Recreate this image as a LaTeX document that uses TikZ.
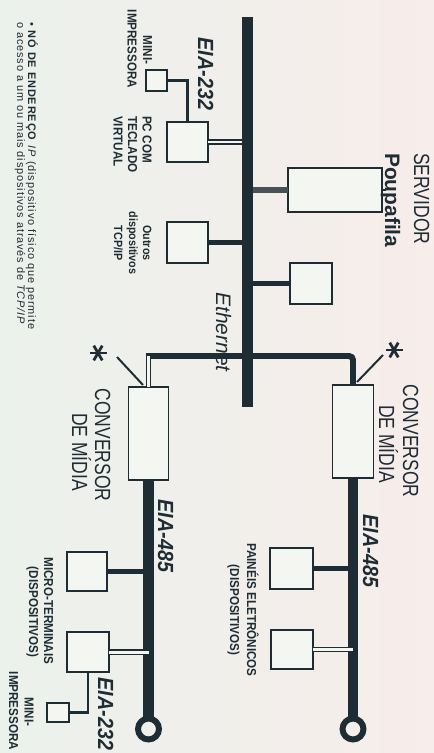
\documentclass[tikz,border=0pt]{standalone}
\usepackage{fontspec}
\setmainfont{Liberation Sans}
\newfontfamily\bigf[FakeStretch=0.8]{Liberation Sans}
\newfontfamily\smf[FakeStretch=0.9]{Liberation Sans}
\newfontfamily\ftf[LetterSpace=8]{Liberation Sans}
\definecolor{ink}{RGB}{30,45,52}
\definecolor{bgL}{RGB}{235,241,235}
\definecolor{bgR}{RGB}{247,237,235}
\definecolor{boxfill}{RGB}{244,246,242}
\definecolor{srvline}{RGB}{70,82,86}
\begin{document}
\begin{tikzpicture}[x=1bp,y=-1bp,
  box/.style={draw=ink, line width=1.4, fill=boxfill, inner sep=0, outer sep=0},
  ring/.style={circle, draw=ink, line width=6, minimum size=21, inner sep=0, outer sep=0},
  bus/.style={draw=ink, line width=10.5},
  thickconn/.style={draw=ink, line width=6},
  dblconn/.style={draw=ink, line width=1.3, double=boxfill, double distance=3},
  thinconn/.style={draw=ink, line width=2.6},
  pointer/.style={draw=ink, line width=2},
  lbl/.style={rotate=-90, inner sep=0, text=ink},
  big/.style={lbl, font=\bigf\fontsize{22}{26}\selectfont},
  eia/.style={lbl, font=\smf\bfseries\itshape\fontsize{22}{26}\selectfont},
  sm/.style={lbl, font=\smf\bfseries\fontsize{13}{15}\selectfont},
  xs/.style={lbl, font=\smf\bfseries\fontsize{12}{14}\selectfont},
  foot/.style={lbl, font=\ftf\fontsize{11}{13}\selectfont}
]
\useasboundingbox (0,0) rectangle (434,753);
\shade[left color=bgL, right color=bgR] (0,0) rectangle (434,753);

% boxes
\node[box, minimum width=94, minimum height=44] (srv) at (335,190) {};
\node[box, minimum width=41, minimum height=40] (pc) at (187.5,142) {};
\node[box, minimum width=21, minimum height=21] (mp1) at (156.5,80.5) {};
\node[box, minimum width=41, minimum height=41] (outros) at (187.5,242.5) {};
\node[box, minimum width=42, minimum height=41] (ipnode) at (311,283.5) {};
\node[box, minimum width=40, minimum height=93] (convL) at (148.5,433.5) {};
\node[box, minimum width=41, minimum height=93] (convR) at (353,431.5) {};
\node[box, minimum width=40, minimum height=39] (mt1) at (87,571.5) {};
\node[box, minimum width=42, minimum height=40] (mt2) at (88,652) {};
\node[box, minimum width=22, minimum height=19] (mp2) at (58,712.5) {};
\node[box, minimum width=43, minimum height=41] (pe1) at (291.5,568.5) {};
\node[box, minimum width=42, minimum height=39] (pe2) at (292,649.5) {};
\node[ring] (endL) at (148.5,729) {};
\node[ring] (endR) at (353,729) {};

\coordinate (ethT) at (247.5,17);
\coordinate (ethB) at (247.5,407);
\coordinate (brL) at (148.5,356);
\coordinate (brR) at (353,356);

% connectors to the Ethernet bus
\draw[srvline, line width=5.5] (srv.west) -- (srv.west -| ethT);
\draw[draw=ink, line width=1.2] (srv.east) -- ++(4,0);
\draw[dblconn] (pc.east) -- (pc.east -| ethT);
\draw[thickconn] (outros.east) -- (outros.east -| ethT);
\draw[thickconn] (ipnode.west) -- (ipnode.west -| ethT);
\draw[thinconn] (mp1.east) -| (pc.north);
\draw[thickconn] ([xshift=-3]brL) -- (brL -| ethT);
\draw[dblconn] (brL) -- (convL.north);
\draw[thickconn, rounded corners=4] (brR -| ethT) -- (brR) -- (convR.north);
\draw[bus] (ethT) -- (ethB);

% EIA-485 lines
\draw[bus] (convL.south) -- (endL.north);
\draw[bus] (convR.south) -- (endR.north);
\draw[thickconn] (mt1.east) -- (mt1.east -| endL);
\draw[dblconn] (mt2.east) -- (mt2.east -| endL);
\draw[thinconn] (mp2.east) -| (mt2.south);
\draw[thickconn] (pe1.east) -- (pe1.east -| endR);
\draw[dblconn] (pe2.east) -- (pe2.east -| endR);

% asterisks and pointers
\coordinate (astL) at (98,353);
\coordinate (astR) at (394,350);
\coordinate (ptL1) at (117,357);
\coordinate (ptL2) at (143,385);
\coordinate (ptR1) at (383,355);
\coordinate (ptR2) at (357,382);
\foreach \a in {0,60,120} {
  \draw[draw=ink, line width=2.8] (astL) ++(\a:8.5) -- ++({\a+180}:17);
  \draw[draw=ink, line width=2.8] (astR) ++(\a:8.5) -- ++({\a+180}:17);
}
\draw[pointer] (ptL1) -- (ptL2);
\draw[pointer] (ptR1) -- (ptR2);

% labels
\node[big, anchor=base west] (tsrv1) at (414,153) {SERVIDOR};
\node[lbl, font=\bfseries\fontsize{21}{25}\selectfont, anchor=base west] (tsrv2) at (385,153) {Poupafila};
\node[big, anchor=base] (tcr1) at (403,441) {CONVERSOR};
\node[big, anchor=base] (tcr2) at (379,444) {DE MÍDIA};
\node[big, anchor=base] (tcl1) at (95,445) {CONVERSOR};
\node[big, anchor=base] (tcl2) at (72,452) {DE MÍDIA};

\node[eia, anchor=base] (te1) at (198,74) {EIA-232};
\node[eia, anchor=base] (te2) at (158,536) {EIA-485};
\node[eia, anchor=base] (te3) at (363,551) {EIA-485};
\node[eia, anchor=base] (te4) at (98,714) {EIA-232};
\node[lbl, font=\itshape\fontsize{21}{25}\selectfont, anchor=base] (teth) at (216,332) {Ethernet};

\node[sm, anchor=base] (tm1) at (143,50) {MINI-};
\node[sm, anchor=base] (tm2) at (127.5,49) {IMPRESSORA};
\node[sm, anchor=base west] (tp1) at (142.5,116) {PC COM};
\node[sm, anchor=base west] (tp2) at (128,116) {TECLADO};
\node[sm, anchor=base west] (tp3) at (113.5,116) {VIRTUAL};
\node[xs, anchor=base] (to1) at (143,243) {Outros};
\node[xs, anchor=base] (to2) at (129,243) {dispositivos};
\node[xs, anchor=base] (to3) at (114,243) {TCP/IP};
\node[sm, anchor=base] (tmt1) at (44,611) {MICRO-TERMINAIS};
\node[sm, anchor=base] (tmt2) at (29,612) {(DISPOSITIVOS)};
\node[sm, anchor=base] (tpe1) at (247,610) {PAINÉIS ELETRÔNICOS};
\node[sm, anchor=base] (tpe2) at (230,610) {(DISPOSITIVOS)};
\node[sm, anchor=base] (tmb1) at (24.5,712) {MINI-};
\node[sm, anchor=base] (tmb2) at (9,711) {IMPRESSORA};

\node[foot, anchor=base west] (tf1) at (28,22) {• \textbf{NÓ DE ENDEREÇO} \textit{IP} (dispositivo físico que permite};
\node[foot, anchor=base west] (tf2) at (17,22) {o acesso a um ou mais dispositivos através de \textit{TCP/IP}};
\end{tikzpicture}
\end{document}
